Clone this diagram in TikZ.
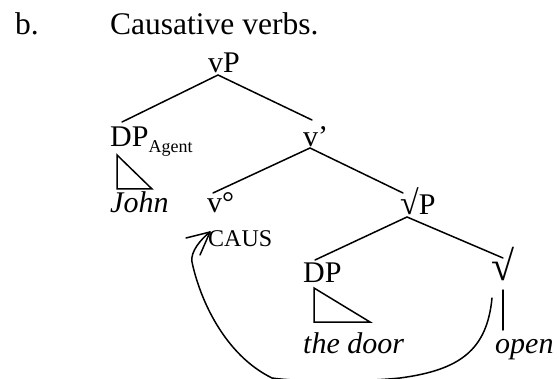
\documentclass[tikz,border=0pt]{standalone}
\usepackage{fontspec}
\setmainfont{Liberation Serif}
\begin{document}
\begin{tikzpicture}[x=1pt,y=-1pt,
  lbl/.style={anchor=base west,inner sep=0pt,font=\fontsize{30}{36}\selectfont},
  head/.style={anchor=base west,inner sep=0pt,font=\fontsize{31.5}{36}\selectfont},
  small/.style={anchor=base west,inner sep=0pt,font=\fontsize{24}{28}\selectfont},
  edge/.style={line width=1.5pt,line cap=round},
  tri/.style={line width=1.5pt,line join=miter}]
\useasboundingbox (0,0) rectangle (559,379);
% texts
\node[head] (b) at (15,35) {b.};
\node[head] (title) at (110,35) {Causative verbs.};
\node[lbl] (vP) at (208,73) {vP};
\node[lbl] (DPa) at (110,147) {DP\raisebox{-6pt}{\fontsize{18}{20}\selectfont Agent}};
\node[lbl] (vbar) at (303,147) {v’};
\node[lbl] (John) at (110,213) {\itshape John};
\node[lbl] (vo) at (207,213) {v°};
\node[small] (caus) at (208,247) {CAUS};
\node[lbl] (rootP) at (400,215) {{\fontsize{34}{36}\selectfont √}P};
\node[lbl] (DP) at (303,282) {DP};
\node[anchor=base west,inner sep=0pt,font=\fontsize{42}{46}\selectfont] (root) at (491,280) {√};
\node[lbl] (door) at (303,353) {\itshape the door};
\node[lbl] (open) at (495,353) {\itshape open};
% connection points
\coordinate (vPb) at (218,75);
\coordinate (DPat) at (122,122);
\coordinate (vbart) at (312,120);
\coordinate (vbarb) at (310,148);
\coordinate (vot) at (213,193);
\coordinate (rootPt) at (403,193);
\coordinate (rootPb) at (407,217);
\coordinate (DPt) at (315,260);
\coordinate (roott) at (503,258);
\coordinate (rootb) at (503,290);
\coordinate (opent) at (503,330);
% branches
\draw[edge] (vPb) -- (DPat);
\draw[edge] (vPb) -- (vbart);
\draw[edge] (vbarb) -- (vot);
\draw[edge] (vbarb) -- (rootPt);
\draw[edge] (rootPb) -- (DPt);
\draw[edge] (rootPb) -- (roott);
\draw[edge] (rootb) -- (opent);
% triangles
\draw[tri] (117,155) -- (117,189) -- (152,189) -- cycle;
\draw[tri] (314,288) -- (314,322) -- (370,322) -- cycle;
% movement arrow
\coordinate (mvs) at (492,298);
\coordinate (mvt) at (210,232);
\draw[edge] (mvs) .. controls (487,350) and (460,370) .. (400,378)
  .. controls (360,382) and (300,382) .. (272,378)
  .. controls (225,355) and (200,300) .. (192,262)
  .. controls (190,252) and (201,239) .. (mvt);
\draw[edge] (mvt) -- (186,238);
\draw[edge] (mvt) -- (200,255);
\end{tikzpicture}
\end{document}
